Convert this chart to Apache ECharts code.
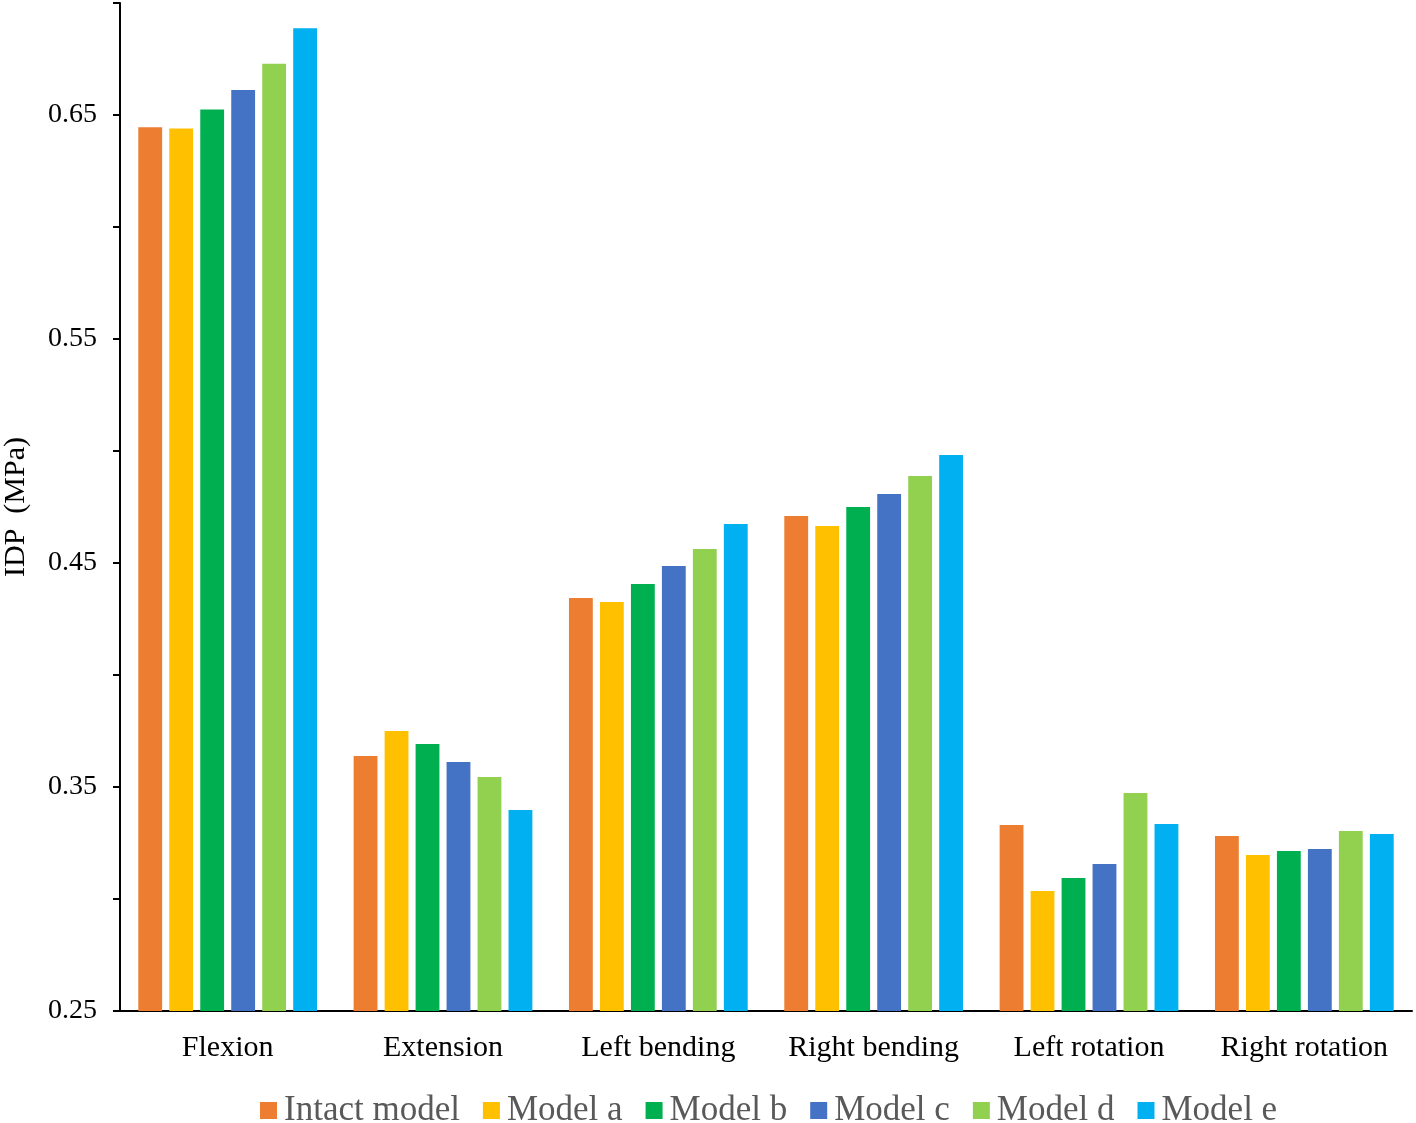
<!DOCTYPE html>
<html>
<head>
<meta charset="utf-8">
<script src="https://cdn.jsdelivr.net/npm/echarts@6/dist/echarts.min.js"></script>
<style>html,body{margin:0;padding:0;background:#fff}#c{width:1416px;height:1123px}</style>
</head>
<body>
<div id="c"></div>
<script>
const categories = ['Flexion', 'Extension', 'Left bending', 'Right bending', 'Left rotation', 'Right rotation'];
const seriesNames = ['Intact model', 'Model a', 'Model b', 'Model c', 'Model d', 'Model e'];
const colors = ['#ED7D31', '#FFC000', '#00B050', '#4472C4', '#92D050', '#00B0F0'];
const intactModel = [0.6445, 0.3638, 0.4344, 0.4710, 0.3330, 0.3281];
const modelA = [0.6440, 0.3750, 0.4326, 0.4665, 0.3036, 0.3196];
const modelB = [0.6525, 0.3692, 0.4406, 0.4750, 0.3094, 0.3214];
const modelC = [0.6612, 0.3612, 0.4487, 0.4808, 0.3156, 0.3223];
const modelD = [0.6729, 0.3545, 0.4563, 0.4888, 0.3473, 0.3304];
const modelE = [0.6887, 0.3397, 0.4674, 0.4982, 0.3335, 0.3290];
const yLabelValues = ['0.25', '0.35', '0.45', '0.55', '0.65'];

const allData = [intactModel, modelA, modelB, modelC, modelD, modelE];
const font = '"Liberation Serif", "Times New Roman", serif';
const chart = echarts.init(document.getElementById('c'));
chart.setOption({
  animation: false,
  textStyle: { fontFamily: font },
  grid: { left: 120, right: 4, top: 3, bottom: 112, containLabel: false, outerBoundsMode: 'none' },
  legend: {
    data: seriesNames,
    left: 260, top: 1093, padding: 0,
    icon: 'rect', itemWidth: 17, itemHeight: 17, itemGap: 23,
    textStyle: { fontFamily: font, fontSize: 35, color: '#595959', padding: [0, 0, 0, 2] }
  },
  xAxis: {
    type: 'category',
    data: categories,
    axisLine: { lineStyle: { color: '#000', width: 2 } },
    axisTick: { alignWithLabel: true, length: 7, lineStyle: { color: '#000', width: 2 } },
    axisLabel: { interval: 0, fontFamily: font, fontSize: 30, color: '#000', margin: 22 }
  },
  yAxis: {
    type: 'value',
    min: 0.25, max: 0.70, interval: 0.05,
    name: 'IDP  (MPa)',
    nameLocation: 'middle',
    nameGap: 89,
    nameTextStyle: { fontFamily: font, fontSize: 30, color: '#000' },
    axisLine: { show: true, lineStyle: { color: '#000', width: 2 } },
    axisTick: { show: true, length: 7, lineStyle: { color: '#000', width: 2 } },
    splitLine: { show: false },
    axisLabel: {
      fontFamily: font, fontSize: 28, color: '#000', margin: 23,
      formatter: function (v) {
        const s = v.toFixed(2);
        return yLabelValues.indexOf(s) >= 0 ? s : '';
      }
    }
  },
  series: seriesNames.map((n, i) => ({
    name: n,
    type: 'bar',
    data: allData[i],
    barGap: '30%',
    barCategoryGap: '17%',
    itemStyle: { color: colors[i] }
  }))
});
</script>
</body>
</html>
